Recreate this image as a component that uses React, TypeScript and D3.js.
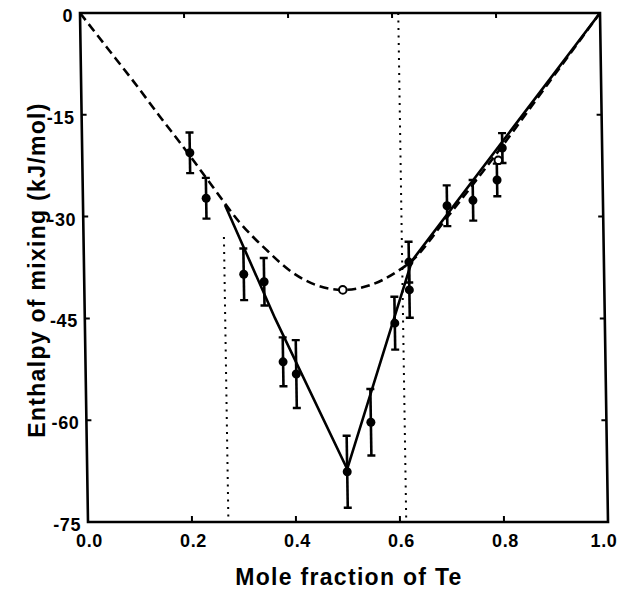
import React from "react";
import * as d3 from "d3";

// ---- data ----
const xTicks = [0, 0.2, 0.4, 0.6, 0.8, 1.0];
const xTickLabels = ["0.0", "0.2", "0.4", "0.6", "0.8", "1.0"];
const yTicks = [0, -15, -30, -45, -60, -75];
const yTickLabels = ["0", "-15", "-30", "-45", "-60", "-75"];

// measured points: x, y, error
const measX = [0.207, 0.237, 0.307, 0.346, 0.38, 0.405, 0.5, 0.547, 0.596, 0.625, 0.625, 0.7, 0.75, 0.797, 0.808];
const measY = [-20.6, -27.3, -38.5, -39.6, -51.4, -53.2, -67.6, -60.3, -45.7, -40.8, -36.7, -28.4, -27.6, -24.6, -19.9];
const measErr = [3.0, 3.0, 3.8, 3.5, 3.6, 5.0, 5.3, 4.9, 3.9, 4.1, 3.0, 3.0, 3.0, 2.4, 2.2];

// open circles (model values)
const openX = [0.497, 0.8];
const openY = [-40.8, -21.7];

// dashed model curve
const dashX = [0, 0.05, 0.1, 0.15, 0.2, 0.25, 0.3, 0.35, 0.4, 0.45, 0.497, 0.55, 0.6, 0.631, 0.7, 0.8, 0.9, 1.0];
const dashY = [0, -5, -10, -15.2, -20.3, -25.6, -30.8, -34.8, -38.2, -40.2, -40.8, -40.1, -38.2, -36.5, -30.1, -20.4, -10.2, 0];

// solid line
const solidX = [0.273, 0.366, 0.5, 0.631, 1.0];
const solidY = [-28.3, -45.0, -67.2, -36.5, 0];

// dotted vertical lines
const dotX = [0.27, 0.612];
const dotTop = [-33, 0];

const W = 622, H = 590;
const X0 = 80, X1 = 600, Y0 = 13, Y1 = 522;
const K = 8 / 509; // slight shear of the scanned figure
const skewDeg = (Math.atan(K) * 180) / Math.PI;

export default function App() {
  const x = d3.scaleLinear().domain([0, 1]).range([X0, X1]);
  const y = d3.scaleLinear().domain([-75, 0]).range([Y1, Y0]);
  const sx = (px: number, py: number) => px + K * (py - Y0);

  const dashLine = d3
    .line<number>()
    .x((_, i) => x(dashX[i]))
    .y((d) => y(d))
    .curve(d3.curveMonotoneX)(dashY) as string;
  const solidLine = d3
    .line<number>()
    .x((_, i) => x(solidX[i]))
    .y((d) => y(d))(solidY) as string;

  const font = "'Liberation Sans', Arial, Helvetica, sans-serif";
  const tickLen = 5;

  return (
    <svg
      width={W}
      height={H}
      style={{ position: "absolute", left: 0, top: 0, background: "#fff" }}
      fontFamily={font}
    >
      <rect x={0} y={0} width={W} height={H} fill="#fff" />
      <g transform={`translate(${-K * Y0},0) skewX(${skewDeg})`}>
        {/* dotted verticals */}
        {dotX.map((v, i) => (
          <line
            key={"dot" + i}
            x1={x(v)}
            x2={x(v)}
            y1={y(dotTop[i])}
            y2={Y1}
            stroke="#000"
            strokeWidth={2}
            strokeDasharray="2,5.5"
          />
        ))}
        {/* axes box */}
        <rect x={X0} y={Y0} width={X1 - X0} height={Y1 - Y0} fill="none" stroke="#000" strokeWidth={2.6} />
        {/* ticks */}
        {xTicks.slice(1, -1).map((v) => (
          <g key={"xt" + v}>
            <line x1={x(v)} x2={x(v)} y1={Y1} y2={Y1 - tickLen - 1} stroke="#000" strokeWidth={2} />
            <line x1={x(v)} x2={x(v)} y1={Y0} y2={Y0 + tickLen} stroke="#000" strokeWidth={2} />
          </g>
        ))}
        {yTicks.slice(1, -1).map((v) => (
          <g key={"yt" + v}>
            <line x1={X0} x2={X0 + tickLen} y1={y(v)} y2={y(v)} stroke="#000" strokeWidth={2} />
            <line x1={X1} x2={X1 - tickLen} y1={y(v)} y2={y(v)} stroke="#000" strokeWidth={2} />
          </g>
        ))}
        {/* model curves */}
        <path d={solidLine} fill="none" stroke="#000" strokeWidth={2.6} strokeLinejoin="round" />
        <path d={dashLine} fill="none" stroke="#000" strokeWidth={2.6} strokeDasharray="9,5" />
        {/* error bars and points */}
        {measX.map((v, i) => {
          const cx = x(v);
          const top = y(measY[i] + measErr[i]);
          const bot = y(measY[i] - measErr[i]);
          return (
            <g key={"m" + i}>
              <line x1={cx} x2={cx} y1={top} y2={bot} stroke="#000" strokeWidth={2.6} />
              <line x1={cx - 4} x2={cx + 4} y1={top} y2={top} stroke="#000" strokeWidth={2.4} />
              <line x1={cx - 4} x2={cx + 4} y1={bot} y2={bot} stroke="#000" strokeWidth={2.4} />
              <circle cx={cx} cy={y(measY[i])} r={4.5} fill="#000" />
            </g>
          );
        })}
        {openX.map((v, i) => (
          <circle key={"o" + i} cx={x(v)} cy={y(openY[i])} r={3.8} fill="#fff" stroke="#000" strokeWidth={2} />
        ))}
      </g>
      {/* tick labels */}
      {xTicks.map((v, i) => (
        <text
          key={"xl" + i}
          x={Math.min(sx(x(v), Y1) + 1.5, 604)}
          y={547}
          textAnchor="middle"
          fontSize={18}
          fontWeight="bold"
          letterSpacing={0.6}
        >
          {xTickLabels[i]}
        </text>
      ))}
      {yTicks.map((v, i) => (
        <text
          key={"yl" + i}
          x={sx(X0, y(v)) - 7}
          y={y(v) + 3}
          textAnchor="end"
          dominantBaseline="central"
          fontSize={18}
          fontWeight="bold"
          letterSpacing={0.6}
        >
          {yTickLabels[i]}
        </text>
      ))}
      {/* axis titles */}
      <text x={349} y={585} textAnchor="middle" fontSize={23} fontWeight="bold" letterSpacing={1.3}>
        Mole fraction of Te
      </text>
      <text
        transform={`translate(45,270) rotate(-90)`}
        textAnchor="middle"
        fontSize={23}
        fontWeight="bold"
        letterSpacing={1.3}
      >
        Enthalpy of mixing (kJ/mol)
      </text>
    </svg>
  );
}
